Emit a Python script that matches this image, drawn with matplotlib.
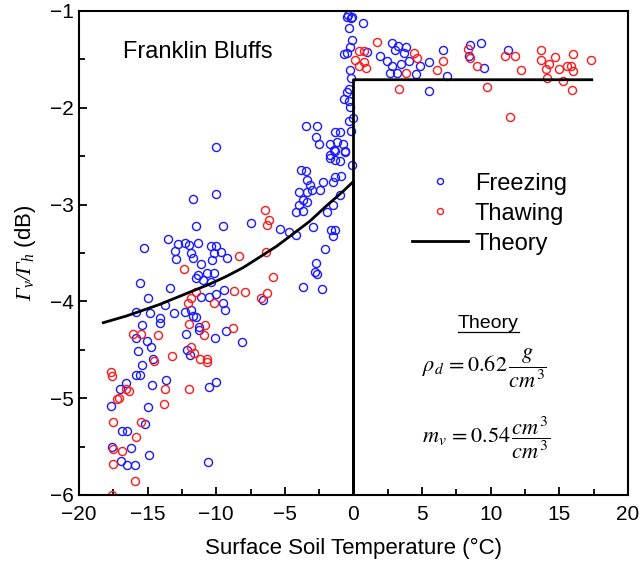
import matplotlib
matplotlib.use("Agg")
import matplotlib.pyplot as plt
from matplotlib.ticker import MultipleLocator

plt.rcParams["font.family"] = ["Liberation Sans", "DejaVu Sans"]
# italic serif for the y-label symbols (custom math font set)
plt.rcParams["mathtext.rm"] = "Liberation Serif:italic"
plt.rcParams["mathtext.it"] = "Liberation Serif:italic"

# Freezing observations (temperature degC, Gamma_v/Gamma_h dB)
freeze_T = [-12.18, -10.10, -9.31, -11.25, -15.02, -14.73, -15.68, -15.82, -15.43, -15.87,
            -15.55, -14.65, -13.63, -16.55, -17.04, -12.10, -11.93, -10.52, -10.04, -17.70,
            -14.95, -16.84, -16.53, -15.19, -17.57, -16.23, -16.96, -16.48, -15.94, -14.90,
            -10.57, -14.60,
            -11.69, -10.01, -11.47, -9.50, -15.26, -13.49, -12.76, -12.27, -11.98, -11.33,
            -13.00, -11.86, -11.67, -12.90, -10.40, -9.99, -10.16, -9.67, -10.33, -9.24,
            -11.13, -10.65, -10.16, -11.33, -11.50, -10.96, -10.40, -15.58, -13.39, -14.95,
            -15.87, -14.83, -13.73, -13.08, -12.27, -11.86, -11.67, -11.50, -11.13, -10.52,
            -10.04, -9.43, -9.38, -9.50, -15.38, -14.10, -14.10, -11.25,
            -7.50, -5.36, -4.68, -4.19, -2.93, -4.19, -3.66, -3.95, -3.37, -3.71,
            -3.95, -3.41, -3.05, -2.44, -3.41, -3.17, -3.85, -3.46, -2.25, -1.52,
            -1.35, -0.94, -0.98, -1.47, -1.96, -1.67, -1.35, -1.52, -2.08, -2.73,
            -2.81, -2.64, -3.66, -2.27, -1.71, -1.35, -1.71, -0.98, -0.62, -0.13,
            -1.35, -6.57, -8.15, -10.02,
            -0.37, -0.20, -0.50, -0.35, -0.13, -0.25, -0.69, -0.45, -0.25, -0.20,
            -0.30, -0.45, -0.69, -0.30, -0.25, -0.30, -0.20, -3.46, -2.63, -2.73,
            -2.49, -1.71, -1.34, -0.98, -1.17, -0.74, -1.42, -0.62, -0.13, -0.06,
            0.67, 0.96, 1.93, 2.78, 3.02, 3.27, 3.83, 3.68, 2.42, 2.78,
            2.66, 3.15, 3.44, 4.07, 4.85, 5.53, 4.56, 6.55, 6.84, 5.53,
            8.49, 9.27, 8.44, 9.51, 11.29]
freeze_val = [-4.34, -4.38, -4.31, -4.30, -4.41, -4.47, -4.51, -4.38, -4.66, -4.76,
              -4.76, -4.86, -4.81, -4.84, -4.90, -4.50, -4.55, -4.88, -4.83, -5.08,
              -5.09, -5.34, -5.34, -5.27, -5.50, -5.51, -5.65, -5.69, -5.69, -5.59,
              -5.66, -4.60,
              -2.94, -2.89, -3.22, -3.22, -3.45, -3.36, -3.41, -3.40, -3.42, -3.40,
              -3.48, -3.50, -3.55, -3.56, -3.43, -3.43, -3.50, -3.49, -3.57, -3.55,
              -3.61, -3.71, -3.71, -3.73, -3.76, -3.78, -3.80, -3.81, -3.86, -3.97,
              -4.11, -4.12, -4.04, -4.12, -4.11, -4.09, -4.15, -4.16, -3.95, -3.95,
              -3.92, -3.88, -4.09, -4.02, -4.24, -4.17, -4.22, -4.26,
              -3.19, -3.25, -3.28, -3.31, -3.23, -3.08, -3.07, -3.00, -2.97, -2.95,
              -2.87, -2.87, -2.85, -2.85, -2.75, -2.80, -2.64, -2.65, -2.77, -2.77,
              -2.71, -2.70, -2.90, -3.00, -3.08, -3.26, -3.26, -3.32, -3.46, -3.60,
              -3.70, -3.72, -3.85, -3.87, -2.49, -2.45, -2.52, -2.55, -2.46, -2.59,
              -2.54, -3.99, -4.42, -2.41,
              -1.04, -1.07, -1.06, -1.18, -1.30, -1.37, -1.44, -1.43, -1.61, -1.69,
              -1.81, -1.84, -1.91, -1.93, -1.99, -2.14, -2.24, -2.19, -2.19, -2.30,
              -2.37, -2.37, -2.25, -2.25, -2.35, -2.37, -2.44, -2.45, -1.06, -2.11,
              -1.12, -1.42, -1.47, -1.33, -1.40, -1.36, -1.37, -1.43, -1.52, -1.57,
              -1.64, -1.64, -1.55, -1.52, -1.57, -1.53, -1.65, -1.40, -1.67, -1.83,
              -1.35, -1.33, -1.47, -1.59, -1.40]

# Thawing observations
thaw_T = [-16.06, -15.46, -14.24, -13.20, -14.50, -17.70, -17.57, -16.55, -16.36, -17.25,
          -17.08, -13.76, -11.98, -13.80, -17.50, -15.46, -15.87, -17.50, -16.84, -17.50,
          -15.92, -17.57, -11.86, -11.62, -11.20, -10.65, -10.65, -10.90,
          -12.35, -11.50, -11.86, -12.06, -10.16, -11.98, -10.82,
          -6.45, -6.14, -6.33, -8.32, -6.38, -5.89, -8.71, -7.91, -6.33, -6.77, -8.81,
          1.74, 0.43, 0.77, 0.11, 0.77, 0.43, 0.91, 4.41, 4.65, 3.83,
          3.34, 6.50, 6.06, 8.37, 8.49, 9.03, 9.71,
          11.04, 11.77, 12.18, 11.41, 13.64, 13.64, 14.27, 14.69, 14.03, 14.08,
          15.00, 15.59, 15.83, 16.02, 15.97, 15.25, 15.90, 17.29]
thaw_val = [-4.34, -4.34, -4.35, -4.56, -4.62, -4.73, -4.77, -4.90, -4.93, -5.01,
            -5.00, -4.90, -4.90, -5.06, -5.25, -5.25, -5.40, -5.52, -5.55, -5.68,
            -5.86, -6.00, -4.47, -4.53, -4.60, -4.59, -4.63, -4.35,
            -3.67, -3.90, -3.97, -4.02, -4.02, -4.23, -4.24,
            -3.06, -3.16, -3.21, -3.53, -3.49, -3.75, -3.89, -3.90, -3.91, -3.97, -4.27,
            -1.32, -1.41, -1.41, -1.51, -1.53, -1.57, -1.59, -1.43, -1.49, -1.64,
            -1.81, -1.52, -1.61, -1.39, -1.49, -1.57, -1.79,
            -1.46, -1.46, -1.61, -2.09, -1.40, -1.51, -1.55, -1.48, -1.60, -1.69,
            -1.60, -1.57, -1.57, -1.44, -1.62, -1.72, -1.82, -1.51]

# Theory curve (frozen branch, then step at 0 degC to thawed value)
theory_T = [-18.23, -16.53, -15.31, -14.10, -12.89, -11.67, -10.46, -9.24, -8.03, -6.81,
            -5.60, -4.38, -3.17, -1.95, -0.74, 0.0, 0.0, 0.0, 17.36]
theory_val = [-4.22, -4.15, -4.09, -4.03, -3.96, -3.89, -3.82, -3.74, -3.65, -3.54,
              -3.43, -3.30, -3.17, -3.01, -2.86, -2.76, -6.0, -1.71, -1.71]

fig = plt.figure(figsize=(6.41, 5.67), dpi=100)
ax = fig.add_axes([79 / 641, 1 - 495 / 567, 549 / 641, 484 / 567])

ax.plot(freeze_T, freeze_val, "o", mfc="none", mec="#1a1aff", mew=1.0, ms=5.8,
        label="Freezing")
ax.plot(thaw_T, thaw_val, "o", mfc="none", mec="#ff1a1a", mew=1.0, ms=5.8,
        label="Thawing")
ax.plot(theory_T, theory_val, color="black", lw=2.0, label="Theory")

ax.set_xlim(-20, 20)
ax.set_ylim(-6, -1)
ax.xaxis.set_major_locator(MultipleLocator(5))
ax.xaxis.set_minor_locator(MultipleLocator(2.5))
ax.yaxis.set_major_locator(MultipleLocator(1))
ax.yaxis.set_minor_locator(MultipleLocator(0.5))
ax.tick_params(which="both", direction="in", width=1.3, labelsize=15)
ax.tick_params(which="major", length=6)
ax.tick_params(which="minor", length=4)
ax.tick_params(axis="x", pad=7)
ax.tick_params(axis="y", pad=4)
for s in ax.spines.values():
    s.set_linewidth(1.5)

ax.set_xlabel("Surface Soil Temperature (°C)", fontsize=16, labelpad=10)
ax.set_ylabel(r"$\Gamma_v/\Gamma_h$ (dB)", fontsize=16,
              math_fontfamily="custom", labelpad=8)

ax.text(0.08, 0.915, "Franklin Bluffs", transform=ax.transAxes, fontsize=17,
        va="center", ha="left")

ax.legend(loc="upper left", bbox_to_anchor=(0.607, 0.666), frameon=False,
          fontsize=17, borderpad=0, borderaxespad=0, handlelength=2.35,
          handletextpad=0.3, labelspacing=0.34, markerscale=0.75)

ax.text(0.745, 0.355, "Theory", transform=ax.transAxes, fontsize=14,
        ha="center", va="center")
ax.plot([0.690, 0.801], [0.336, 0.336], transform=ax.transAxes, color="black", lw=0.9)
ax.text(0.625, 0.262, r"$\rho_d\, = 0.62\,\dfrac{g}{cm^3}$", transform=ax.transAxes,
        fontsize=16, ha="left", va="center", math_fontfamily="stix")
ax.text(0.625, 0.118, r"$m_v\, = 0.54\,\dfrac{cm^3}{cm^3}$", transform=ax.transAxes,
        fontsize=16, ha="left", va="center", math_fontfamily="stix")

fig.savefig("out.png", dpi=100)
